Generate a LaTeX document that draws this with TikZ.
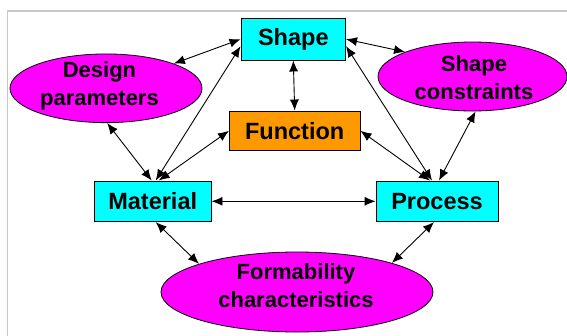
\documentclass[tikz,border=0pt]{standalone}
\usepackage{fontspec}
\setmainfont{Liberation Sans}
\usetikzlibrary{shapes.geometric,arrows.meta,calc}
\definecolor{cy}{RGB}{0,255,255}
\definecolor{mg}{RGB}{255,0,255}
\definecolor{orng}{RGB}{255,153,0}
\definecolor{framegray}{RGB}{200,200,200}
\begin{document}
\begin{tikzpicture}[x=1pt,y=-1pt,
 box/.style={draw=black,line width=0.8pt,inner sep=0pt,font=\fontsize{23.5}{28}\selectfont\bfseries},
 oval/.style={ellipse,draw=black,line width=0.8pt,fill=mg,inner sep=0pt},
 lbl/.style={inner sep=0pt,align=center,font=\fontsize{22}{28}\selectfont\bfseries},
 link/.style={{Latex[length=11pt,width=9pt]}-{Latex[length=11pt,width=9pt]},line width=0.9pt}]
\useasboundingbox (0,0) rectangle (567,335);
\draw[framegray,line width=1.3pt] (7.5,340) -- (7.5,11) -- (570,11);

\node[box,fill=cy,minimum width=104.7pt,minimum height=41.7pt] (shape) at (293.3,39.2) {Shape};
\node[box,fill=orng,minimum width=130.7pt,minimum height=39.7pt] (function) at (294.7,130.8) {Function};
\node[box,fill=cy,minimum width=116.7pt,minimum height=40.7pt] (material) at (152.7,201.3) {Material};
\node[box,fill=cy,minimum width=122pt,minimum height=40.7pt] (process) at (437,201.3) {Process};
\node[oval,minimum width=192pt,minimum height=68.7pt] (design) at (106,88.3) {};
\node[oval,minimum width=189pt,minimum height=69pt] (sc) at (472.5,76.5) {};
\node[oval,minimum width=272pt,minimum height=80pt] (form) at (297,292) {};
\node[lbl] (designtxt) at ($(design)+(-6.5,-2.2)$) {Design\\parameters};
\node[lbl] (sctxt) at ($(sc)+(1.5,1)$) {Shape\\constraints};
\node[lbl] (formtxt) at ($(form)+(-1,-6)$) {Formability\\characteristics};

\draw[link] (shape.west) -- (design.20);
\draw[link] (shape.east) -- (sc.160);
\draw[link] (shape.south) -- (function.north);
\draw[link] ([yshift=-7pt]shape.west) -- ([xshift=3pt]material.north);
\draw[link] ([yshift=-7pt]shape.east) -- ([xshift=-5pt]process.north);
\draw[link] (design.-88) -- ([xshift=-1pt]material.north);
\draw[link] (function.west) -- ([xshift=6pt]material.north);
\draw[link] (function.east) -- ([xshift=-7pt]process.north);
\draw[link] (sc.-85) -- ([xshift=2pt]process.north);
\draw[link] (material.east) -- (process.west);
\draw[link] ([xshift=3pt]material.south) -- (form.164);
\draw[link] ([xshift=-3pt]process.south) -- (form.17);
\end{tikzpicture}
\end{document}
